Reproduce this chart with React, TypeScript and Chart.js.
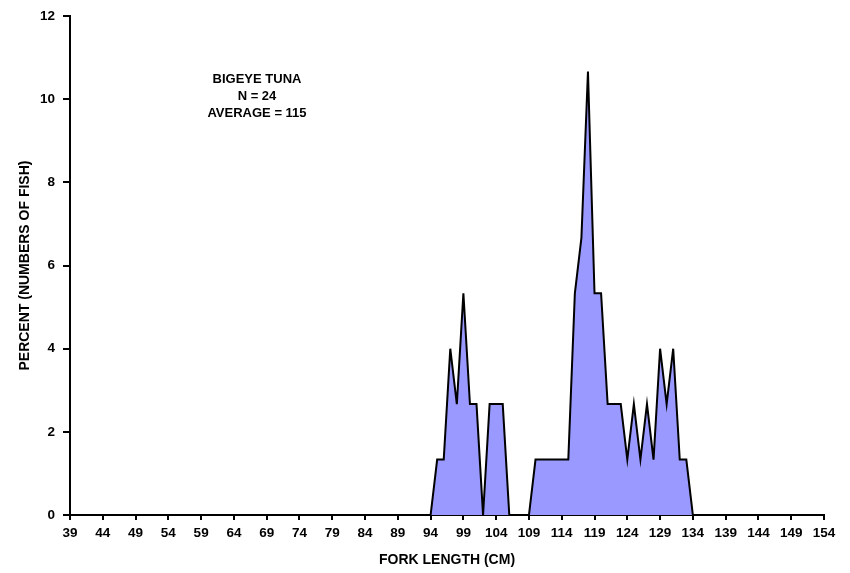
import React, { useEffect, useRef } from "react";
import { Chart, registerables } from "chart.js";

Chart.register(...registerables);

// Fork length (cm) and percent of fish at each length
const forkLength = [
  94, 95, 96, 97, 98, 99, 100, 101, 102, 103, 104, 105, 106, 107, 108, 109,
  110, 111, 112, 113, 114, 115, 116, 117, 118, 119, 120, 121, 122, 123, 124,
  125, 126, 127, 128, 129, 130, 131, 132, 133, 134,
];
const percentFish = [
  0, 1.333, 1.333, 4, 2.667, 5.333, 2.667, 2.667, 0, 2.667, 2.667, 2.667, 0,
  0, 0, 0, 1.333, 1.333, 1.333, 1.333, 1.333, 1.333, 5.333, 6.667, 10.667,
  5.333, 5.333, 2.667, 2.667, 2.667, 1.333, 2.667, 1.333, 2.667, 1.333, 4,
  2.667, 4, 1.333, 1.333, 0,
];
const xTickLabels = [
  39, 44, 49, 54, 59, 64, 69, 74, 79, 84, 89, 94, 99, 104, 109, 114, 119, 124,
  129, 134, 139, 144, 149, 154,
];
const yTickLabels = [0, 2, 4, 6, 8, 10, 12];
const annotationLines = ["BIGEYE TUNA", "N = 24", "AVERAGE = 115"];

const FONT = "'Liberation Sans', Arial, Helvetica, sans-serif";

const annotationPlugin = {
  id: "annotationText",
  afterDraw(chart: any) {
    const { ctx, chartArea } = chart;
    ctx.save();
    ctx.font = `bold 13px ${FONT}`;
    ctx.fillStyle = "#000";
    ctx.textAlign = "center";
    ctx.textBaseline = "middle";
    const cx = chartArea.left + 187;
    const cy = chartArea.top + 63;
    annotationLines.forEach((line, i) => {
      ctx.fillText(line, cx, cy + i * 17);
    });
    ctx.restore();
  },
};

export default function App() {
  const canvasRef = useRef<HTMLCanvasElement | null>(null);

  useEffect(() => {
    const canvas = canvasRef.current;
    if (!canvas) return;
    const chart = new Chart(canvas, {
      type: "line",
      data: {
        datasets: [
          {
            data: forkLength.map((x, i) => ({ x, y: percentFish[i] })),
            borderColor: "#000000",
            borderWidth: 2,
            backgroundColor: "#9999ff",
            fill: "origin",
            pointRadius: 0,
            tension: 0,
          },
        ],
      },
      options: {
        responsive: false,
        animation: false,
        layout: { padding: { top: 16, right: 26, left: 0, bottom: 0 } },
        plugins: {
          legend: { display: false },
          tooltip: { enabled: false },
        },
        scales: {
          x: {
            type: "linear",
            min: 39,
            max: 154,
            afterBuildTicks: (scale: any) => {
              scale.ticks = xTickLabels.map((v) => ({ value: v }));
            },
            afterFit: (scale: any) => {
              scale.height = 58;
            },
            grid: {
              drawOnChartArea: false,
              color: "#000",
              lineWidth: 2,
              tickLength: 5,
            },
            border: { display: true, color: "#000", width: 2 },
            ticks: {
              autoSkip: false,
              maxRotation: 0,
              minRotation: 0,
              padding: 5,
              color: "#000",
              font: { family: FONT, size: 13.5, weight: "bold" },
            },
            title: {
              display: true,
              text: "FORK LENGTH (CM)",
              color: "#000",
              font: { family: FONT, size: 14, weight: "bold" },
              padding: { top: 0, bottom: 4 },
            },
          },
          y: {
            min: 0,
            max: 12,
            afterBuildTicks: (scale: any) => {
              scale.ticks = yTickLabels.map((v) => ({ value: v }));
            },
            afterFit: (scale: any) => {
              scale.width = 70;
            },
            grid: {
              drawOnChartArea: false,
              color: "#000",
              lineWidth: 2,
              tickLength: 7,
            },
            border: { display: true, color: "#000", width: 2 },
            ticks: {
              padding: 8,
              color: "#000",
              font: { family: FONT, size: 13.5, weight: "bold" },
            },
            title: {
              display: true,
              text: "PERCENT (NUMBERS OF FISH)",
              color: "#000",
              font: { family: FONT, size: 14, weight: "bold" },
              padding: { top: 17, bottom: 0 },
            },
          },
        },
      },
      plugins: [annotationPlugin],
    } as any);
    return () => chart.destroy();
  }, []);

  return (
    <div style={{ position: "fixed", left: 0, top: 0, width: 850, height: 573, background: "#fff" }}>
      <canvas ref={canvasRef} width={850} height={573} />
    </div>
  );
}
